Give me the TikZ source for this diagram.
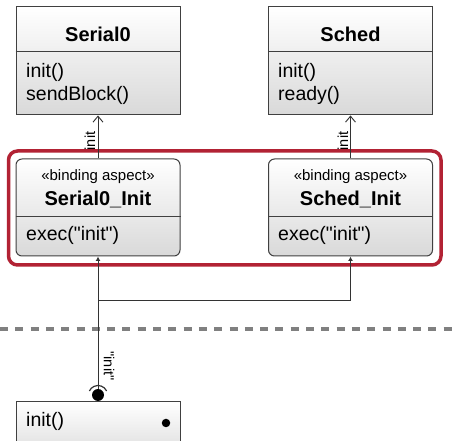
\documentclass[tikz,border=0pt]{standalone}
\usepackage{fontspec}
\setmainfont{Liberation Sans}[Ligatures=TeXOff]
\usetikzlibrary{arrows.meta,positioning}
\definecolor{aspectred}{RGB}{178,34,52}
\tikzset{
  classbox/.style ={rectangle, draw=black!75, line width=1pt, inner sep=0pt,
    top color=white, bottom color=black!15, minimum width=164pt},
  aspectbox/.style={classbox, rounded corners=6pt},
  title/.style    ={font=\fontsize{20}{24}\selectfont\bfseries, inner sep=0pt},
  stereo/.style   ={font=\fontsize{15}{18}\selectfont, inner sep=0pt},
  member/.style   ={font=\fontsize{19.5}{23}\selectfont, anchor=base west, inner sep=0pt},
  rolelbl/.style  ={font=\fontsize{14.5}{16}\selectfont, inner sep=0pt},
  bindline/.style ={draw=black!80, line width=0.9pt},
  uses/.style     ={bindline, -{Straight Barb[length=6pt,width=10pt]}},
  binds/.style    ={bindline, -{Latex[length=4.5pt,width=5pt]}}}

\begin{document}
\begin{tikzpicture}[x=1pt,y=-1pt]
\clip (0,0) rectangle (459,441);
\fill[white] (0,0) rectangle (459,441);
% classes
\node[classbox, minimum height=108pt] (ser) at (98,61) {};
\node[classbox, minimum height=108pt] (sch) at (350.5,61) {};
\draw[draw=black!75, line width=1pt] (ser.west |- 0,52) -- (ser.east |- 0,52)
  (sch.west |- 0,52) -- (sch.east |- 0,52);
\node[title] (serT) at (98,34) {Serial0};
\node[title] (schT) at (350.5,34) {Sched};
\node[member] (serM1) at (26,78) {init()};
\node[member] (serM2) at (26,101) {sendBlock()};
\node[member] (schM1) at (278,78) {init()};
\node[member] (schM2) at (278,101) {ready()};
% binding aspects
\node[aspectbox, minimum height=97pt] (serI) at (98,207.5) {};
\node[aspectbox, minimum height=97pt] (schI) at (350.5,207.5) {};
\draw[draw=black!75, line width=1pt] (serI.west |- 0,217) -- (serI.east |- 0,217)
  (schI.west |- 0,217) -- (schI.east |- 0,217);
\node[stereo] (serS) at (98,177) {«binding aspect»};
\node[stereo] (schS) at (350.5,177) {«binding aspect»};
\node[title] (serN) at (98,199) {Serial0\_Init};
\node[title] (schN) at (350.5,199) {Sched\_Init};
\node[member] (serE) at (26,241) {exec("init")};
\node[member] (schE) at (278,241) {exec("init")};
\draw[draw=aspectred, line width=3.5pt, rounded corners=9pt]
  (8.5,151) rectangle (441,265);
% uses
\draw[uses] (serI.north) -- (ser.south);
\draw[uses] (schI.north) -- (sch.south);
\node[rolelbl, rotate=90] (serR) at (90,141) {init};
\node[rolelbl, rotate=90] (schR) at (343,141) {init};
% layer border
\draw[draw=black!50, line width=3.5pt, dash pattern=on 8pt off 7.3pt]
  (0,329) -- (459,329);
% port
\node[classbox, minimum height=60pt] (port) at (98,432) {};
\node[member] (portM) at (26,427) {init()};
\node[circle, fill=black, minimum size=8.5pt, inner sep=0pt] (mark) at (166,423) {};
\node[circle, fill=black, minimum size=12pt, inner sep=0pt] (ball) at (98,395) {};
\draw[bindline, line width=1.2pt] (ball.center) ++(25:9.5pt) arc[start angle=25, end angle=155, radius=9.5pt];
\coordinate (fork) at (98,300);
\draw[binds] (ball) -- (serI.south);
\draw[binds] (fork) -| (schI.south);
\node[rolelbl, rotate=-90] (portR) at (109,366) {"init"};
\end{tikzpicture}
\end{document}
